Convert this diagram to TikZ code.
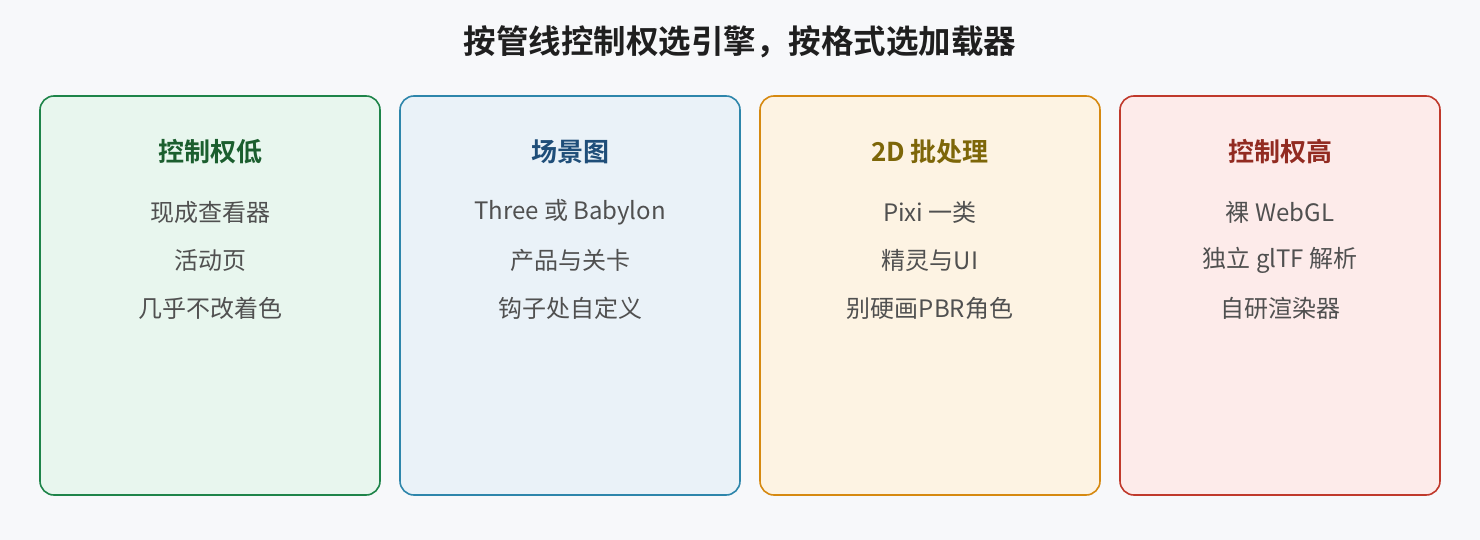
\documentclass[tikz,border=0pt]{standalone}
\usepackage{fontspec}
\setmainfont{Noto Sans CJK SC}
\newfontfamily\cjkb{Noto Sans CJK SC Bold}
\definecolor{bg}{HTML}{F7F8FA}
\definecolor{txt}{HTML}{505050}
\definecolor{gB}{HTML}{1E8449}\definecolor{gF}{HTML}{E8F6EE}\definecolor{gT}{HTML}{1B5E2E}
\definecolor{bB}{HTML}{2E86AB}\definecolor{bF}{HTML}{EAF2F8}\definecolor{bT}{HTML}{1F4E79}
\definecolor{oB}{HTML}{D68910}\definecolor{oF}{HTML}{FDF3E3}\definecolor{oT}{HTML}{7D6608}
\definecolor{rB}{HTML}{C0392B}\definecolor{rF}{HTML}{FDEBEA}\definecolor{rT}{HTML}{922B21}
\tikzset{
  card/.style={draw=#1B, fill=#1F, line width=1.6pt, rounded corners=14pt, minimum height=399pt, inner sep=0pt},
  cardtitle/.style={font=\cjkb\fontsize{26}{30}\selectfont, text=#1T, anchor=center},
  item/.style={font=\fontsize{24}{28}\selectfont, text=txt, anchor=center},
}
\begin{document}
\begin{tikzpicture}[x=1pt,y=-1pt]
\fill[bg] (0,0) rectangle (1480,540);
\useasboundingbox (0,0) rectangle (1480,540);
\node[font=\cjkb\fontsize{32.5}{38}\selectfont, text=black!88] (title) at (740,42) {按管线控制权选引擎，按格式选加载器};
% cards
\node[card=g, minimum width=340pt] (c1) at (210,295.5) {};
\node[card=b, minimum width=340pt] (c2) at (570,295.5) {};
\node[card=o, minimum width=340pt] (c3) at (930,295.5) {};
\node[card=r, minimum width=320pt] (c4) at (1280,295.5) {};
% card 1
\node[cardtitle=g] (t1) at (210,152) {控制权低};
\node[item] (a1) at (210,212) {现成查看器};
\node[item] (a2) at (210,260) {活动页};
\node[item] (a3) at (210,308) {几乎不改着色};
% card 2
\node[cardtitle=b] (t2) at (570,152) {场景图};
\node[item] (b1) at (570,212) {Three 或 Babylon};
\node[item] (b2) at (570,260) {产品与关卡};
\node[item] (b3) at (570,308) {钩子处自定义};
% card 3
\node[cardtitle=o] (t3) at (930,152) {2D 批处理};
\node[item] (o1) at (930,212) {Pixi 一类};
\node[item] (o2) at (930,260) {精灵与UI};
\node[item] (o3) at (930,308) {别硬画PBR角色};
% card 4
\node[cardtitle=r] (t4) at (1280,152) {控制权高};
\node[item] (r1) at (1280,212) {裸 WebGL};
\node[item] (r2) at (1280,260) {独立 glTF 解析};
\node[item] (r3) at (1280,308) {自研渲染器};
\end{tikzpicture}
\end{document}
